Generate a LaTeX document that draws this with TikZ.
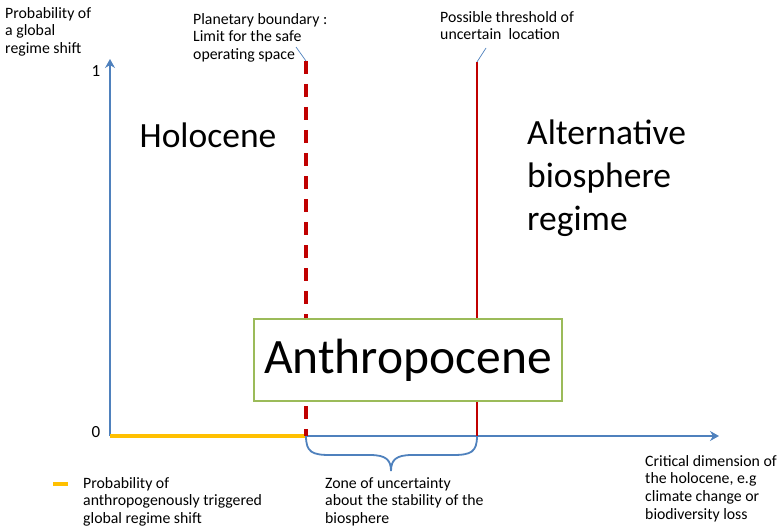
\documentclass[tikz,border=0pt]{standalone}
\usepackage{fontspec}
\setmainfont{Carlito}
\usetikzlibrary{arrows.meta,positioning}

\definecolor{axisblue}{RGB}{79,129,189}
\definecolor{shiftred}{RGB}{192,0,0}
\definecolor{probyellow}{RGB}{255,192,0}
\definecolor{boxgreen}{RGB}{155,187,89}

\tikzset{
  small/.style = {font=\fontsize{15.8}{17.8}\selectfont, align=left, anchor=north west, inner sep=0pt},
  big/.style = {font=\fontsize{35.5}{43}\selectfont, align=left, inner sep=0pt},
  axis/.style = {draw=axisblue, line width=2.4pt, -{Stealth[length=9pt,width=10pt,inset=3pt]}},
  leader/.style = {draw=axisblue, line width=0.7pt}
}

\begin{document}
\begin{tikzpicture}[x=1pt, y=-1pt]
		\useasboundingbox (0,0) rectangle (779,532);
		% axes
		\coordinate (origin) at (110,436);
		\coordinate (ytop) at (110,59);
		\coordinate (xend) at (719,436);
		\draw [axis] (origin) -- (ytop);
		\draw [axis] (origin) -- (xend);
		\node [font=\fontsize{17}{19}\selectfont] (one) at (96,71) {1};
		\node [font=\fontsize{17}{19}\selectfont] (zero) at (96,432) {0};
		\node [small] (ylabel) at (5,7) {Probability of\\a global\\regime shift};
		\node [small] (xlabel) at (645,455) {Critical dimension of\\the holocene, e.g\\climate change or\\biodiversity loss};
		% boundary and threshold
		\coordinate (pbTop) at (306,61);
		\coordinate (pbBot) at (306,436);
		\coordinate (thTop) at (477,62);
		\coordinate (thBot) at (477,436);
		\draw [probyellow, line width=4pt] (origin) -- (pbBot);
		\draw [shiftred, line width=3.6pt, dash pattern=on 13pt off 10pt] (pbTop) -- (pbBot);
		\draw [shiftred, line width=2.6pt] (thTop) -- (thBot);
		\node [small] (pbText) at (193,13) {Planetary boundary :\\Limit for the safe\\operating space};
		\node [small] (thText) at (440,11) {Possible threshold of\\uncertain~ location};
		\coordinate (pbLead) at (296,47);
		\coordinate (thLead) at (486,48);
		\draw [leader] (pbLead) -- (pbTop);
		\draw [leader] (thLead) -- (thTop);
		% regimes
		\node [big] (holocene) at (208,135) {Holocene};
		\node [big, anchor=north west] (alt) at (527,120) {Alternative\\biosphere\\regime};
		\node [draw=boxgreen, line width=1.8pt, fill=white, minimum width=308pt, minimum height=82pt,
		       font=\fontsize{49.5}{52}\selectfont] (anthro) at (408,360) {Anthropocene};
		% zone of uncertainty
		\coordinate (tip) at (391,471);
		\draw [axisblue, line width=1.8pt] (pbBot) .. controls (306,452) and (312,455) .. (330,455)
		      -- (370,455) .. controls (386,455) and (391,460) .. (tip)
		      .. controls (391,460) and (396,455) .. (412,455)
		      -- (453,455) .. controls (471,455) and (477,452) .. (thBot);
		\node [small] (zone) at (325,477) {Zone of uncertainty\\about the stability of the\\biosphere};
		% legend
		\coordinate (legA) at (53,484);
		\coordinate (legB) at (68,484);
		\draw [probyellow, line width=4pt] (legA) -- (legB);
		\node [small] (legText) at (83,477) {Probability of\\anthropogenously triggered\\global regime shift};
	\end{tikzpicture}
\end{document}
